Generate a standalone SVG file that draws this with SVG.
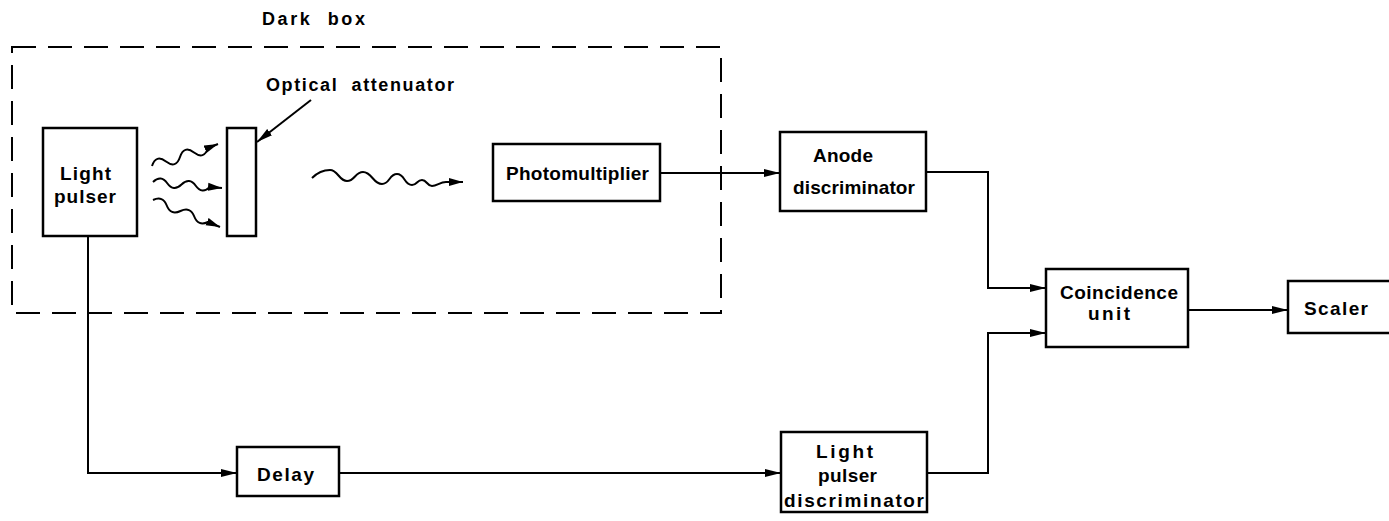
<svg xmlns="http://www.w3.org/2000/svg" width="1389" height="521" viewBox="0 0 1389 521">
<style>
  .box{fill:#fff;stroke:#000;stroke-width:2.5}
  .ln{fill:none;stroke:#000;stroke-width:2}
  .wv{fill:none;stroke:#000;stroke-width:2}
  .dash{fill:none;stroke:#000;stroke-width:2;stroke-dasharray:24 12}
  text{font-family:"Liberation Sans",Arial,sans-serif;font-weight:bold;font-size:19px;fill:#000}
  .sm{font-size:18px}
</style>
<defs>
  <marker id="arr" markerUnits="userSpaceOnUse" markerWidth="17" markerHeight="9" refX="16" refY="4.5" orient="auto">
    <path d="M0,0.5 L16,4.5 L0,8.5 z" fill="#000"/>
  </marker>
  <marker id="arrs" markerUnits="userSpaceOnUse" markerWidth="15" markerHeight="9" refX="14" refY="4.5" orient="auto">
    <path d="M0,0.5 L14,4.5 L0,8.5 z" fill="#000"/>
  </marker>
</defs>
<rect width="1389" height="521" fill="#fff"/>

<g id="darkbox">
  <rect class="dash" x="12" y="47" width="709" height="266"/>
  <text class="sm" x="262" y="25" textLength="103" lengthAdjust="spacing" xml:space="preserve">Dark  box</text>
</g>

<g id="light-pulser">
  <rect class="box" x="43" y="128" width="94" height="108"/>
  <text x="60" y="180" textLength="51" lengthAdjust="spacing">Light</text>
  <text x="54" y="203" textLength="62" lengthAdjust="spacing">pulser</text>
</g>

<g id="attenuator">
  <rect class="box" x="227" y="128" width="29" height="108"/>
  <text class="sm" x="266" y="91" textLength="188" lengthAdjust="spacing" xml:space="preserve">Optical  attenuator</text>
</g>

<g id="light-rays">
  <path class="wv" marker-end="url(#arrs)" d="M152,166 Q156,154 166,161.5 Q176,169 180,157 Q184,145 194,152.5 Q204,160 208,148 L218,144"/>
  <path class="wv" marker-end="url(#arrs)" d="M153,182 Q161,174.6 167.25,183.25 Q173.5,192 181.5,184.5 Q189.5,177 195.75,185.75 Q202,194.5 210,187 L222,188"/>
  <path class="wv" marker-end="url(#arrs)" d="M153,200 Q162.9,195.4 166.75,205.5 Q170.6,215.6 180.5,211 Q190.4,206.4 194.25,216.5 Q198.1,226.6 208,222 L220,227"/>
  <path class="wv" marker-end="url(#arrs)" d="M312,178 C318,172 324,170 330,170 C338,170 339,181 347,181 C355,181 355,172 363,172 C372,172 373,184 382,184 C390,184 389,174 397,174 C405,174 404,185 412,185 C417,185 417,180 422,180 C427,180 427,186 432,186 C437,186 440,182 446,182 L463,182"/>
</g>

<g id="photomultiplier">
  <rect class="box" x="493" y="144" width="167" height="57"/>
  <text x="506" y="180" textLength="143" lengthAdjust="spacing">Photomultiplier</text>
</g>

<g id="anode-discriminator">
  <rect class="box" x="780" y="132" width="146" height="79"/>
  <text x="813" y="162" textLength="60" lengthAdjust="spacing">Anode</text>
  <text x="793" y="194" textLength="122" lengthAdjust="spacing">discriminator</text>
</g>

<g id="coincidence-unit">
  <rect class="box" x="1046" y="269" width="142" height="78"/>
  <text x="1060" y="299" textLength="118" lengthAdjust="spacing">Coincidence</text>
  <text x="1088" y="320" textLength="42" lengthAdjust="spacing">unit</text>
</g>

<g id="scaler">
  <rect class="box" x="1288" y="281" width="104" height="52"/>
  <text x="1304" y="315" textLength="64" lengthAdjust="spacing">Scaler</text>
</g>

<g id="delay">
  <rect class="box" x="237" y="447" width="102" height="49"/>
  <text x="257" y="481" textLength="57" lengthAdjust="spacing">Delay</text>
</g>

<g id="light-pulser-discriminator">
  <rect class="box" x="781" y="432" width="146" height="80"/>
  <text x="816" y="458" textLength="57" lengthAdjust="spacing">Light</text>
  <text x="818" y="482" textLength="59" lengthAdjust="spacing">pulser</text>
  <text x="784" y="507" textLength="140" lengthAdjust="spacing">discriminator</text>
</g>

<g id="connectors">
  <path class="ln" marker-end="url(#arr)" d="M311,100 L257,142"/>
  <path class="ln" marker-end="url(#arr)" d="M660,173 H780"/>
  <path class="ln" marker-end="url(#arr)" d="M926,172 H988 V288 H1046"/>
  <path class="ln" marker-end="url(#arr)" d="M927,473 H988 V333 H1046"/>
  <path class="ln" marker-end="url(#arr)" d="M1188,310 H1288"/>
  <path class="ln" marker-end="url(#arr)" d="M88,236 V473 H237"/>
  <path class="ln" marker-end="url(#arr)" d="M339,473 H781"/>
</g>
</svg>
